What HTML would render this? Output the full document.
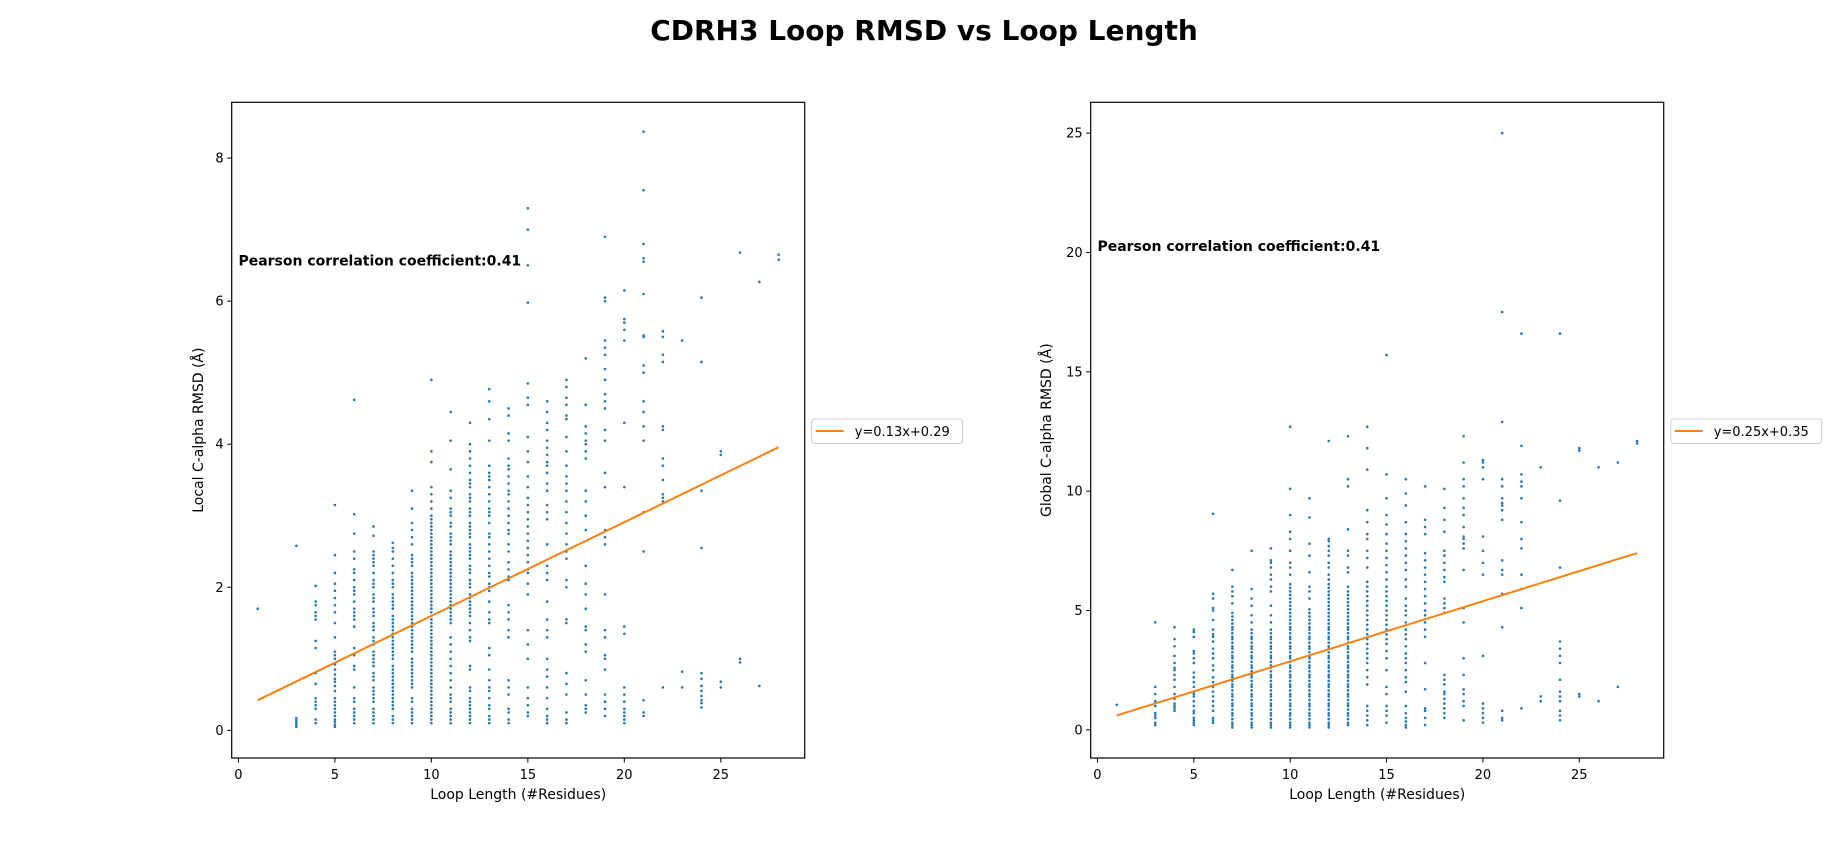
<!DOCTYPE html>
<html><head><meta charset="utf-8"><style>
html,body{margin:0;padding:0;background:#fff;}
svg{display:block;font-family:"DejaVu Sans","Liberation Sans",sans-serif;}
</style></head><body>
<svg id="fig" width="1848" height="852" viewBox="0 0 1848 852" xmlns="http://www.w3.org/2000/svg">
<text x="924" y="40" text-anchor="middle" font-size="28" font-weight="bold">CDRH3 Loop RMSD vs Loop Length</text>
</svg>
<script>
const lengths = [1,3,4,5,6,7,8,9,10,11,12,13,14,15,16,17,18,19,20,21,22,23,24,25,26,27,28];
const localRmsd = [
[1.7],
[0.05,0.08,0.11,0.14,0.17,2.58],
[0.1,0.15,0.3,0.35,0.4,0.45,0.65,0.8,1.15,1.25,1.55,1.6,1.65,1.75,1.8,2.02],
[0.05,0.08,0.12,0.15,0.2,0.25,0.3,0.35,0.4,0.45,0.55,0.62,0.68,0.72,0.78,0.85,0.92,1.0,1.05,1.1,1.3,1.5,1.65,1.75,1.85,1.95,2.05,2.2,2.45,3.15],
[0.1,0.15,0.2,0.25,0.3,0.4,0.45,0.6,0.85,0.9,1.05,1.15,1.45,1.55,1.6,1.65,1.7,1.8,1.9,1.95,2.0,2.1,2.2,2.25,2.4,2.5,2.75,3.02,4.62],
[0.1,0.15,0.2,0.25,0.3,0.4,0.45,0.5,0.55,0.6,0.7,0.75,0.8,0.9,0.95,1.0,1.05,1.1,1.2,1.25,1.3,1.4,1.45,1.5,1.6,1.65,1.7,1.8,1.85,1.9,2.0,2.05,2.1,2.2,2.3,2.35,2.4,2.45,2.5,2.72,2.85],
[0.1,0.15,0.2,0.3,0.35,0.4,0.45,0.5,0.55,0.6,0.65,0.7,0.75,0.8,0.85,0.9,1.0,1.05,1.1,1.15,1.2,1.25,1.3,1.35,1.4,1.45,1.5,1.55,1.6,1.7,1.75,1.8,1.85,1.9,2.0,2.05,2.1,2.2,2.3,2.4,2.5,2.55,2.62],
[0.1,0.15,0.2,0.25,0.3,0.4,0.45,0.6,0.65,0.7,0.75,0.8,0.85,0.9,0.95,1.0,1.1,1.15,1.2,1.25,1.3,1.35,1.4,1.45,1.5,1.55,1.6,1.65,1.7,1.75,1.8,1.85,1.9,1.95,2.0,2.05,2.1,2.15,2.2,2.3,2.35,2.4,2.45,2.6,2.7,2.8,2.9,3.1,3.35],
[0.1,0.15,0.2,0.25,0.3,0.35,0.4,0.45,0.5,0.55,0.6,0.65,0.7,0.75,0.8,0.85,0.9,0.95,1.0,1.05,1.1,1.15,1.2,1.25,1.3,1.35,1.4,1.45,1.5,1.55,1.6,1.65,1.7,1.75,1.8,1.85,1.9,1.95,2.0,2.05,2.1,2.15,2.2,2.25,2.3,2.35,2.4,2.45,2.5,2.55,2.6,2.65,2.7,2.75,2.8,2.85,2.9,2.95,3.0,3.1,3.2,3.3,3.4,3.75,3.9,4.9],
[0.1,0.15,0.2,0.25,0.3,0.4,0.45,0.5,0.6,0.7,0.8,0.9,1.0,1.1,1.2,1.3,1.5,1.55,1.6,1.65,1.7,1.75,1.8,1.85,1.9,1.95,2.0,2.05,2.1,2.15,2.2,2.25,2.3,2.35,2.4,2.45,2.5,2.6,2.65,2.7,2.75,2.85,2.9,3.0,3.05,3.1,3.25,3.35,3.65,4.05,4.45],
[0.1,0.15,0.2,0.25,0.3,0.35,0.4,0.45,0.55,0.6,0.85,0.9,1.25,1.3,1.4,1.5,1.6,1.65,1.7,1.75,1.8,1.85,1.9,2.0,2.05,2.1,2.2,2.25,2.3,2.4,2.45,2.5,2.55,2.6,2.7,2.75,2.8,2.85,2.9,3.0,3.05,3.1,3.2,3.25,3.3,3.4,3.45,3.5,3.6,3.7,3.8,3.9,4.0,4.3],
[0.1,0.15,0.2,0.3,0.35,0.45,0.55,0.6,0.7,0.85,1.05,1.15,1.5,1.55,1.65,1.8,1.95,2.0,2.05,2.15,2.2,2.3,2.4,2.5,2.6,2.7,2.75,2.9,3.0,3.05,3.1,3.2,3.3,3.4,3.5,3.55,3.6,3.7,4.05,4.35,4.6,4.77],
[0.1,0.15,0.25,0.3,0.5,0.6,0.7,1.3,1.4,1.55,1.65,1.75,2.1,2.15,2.25,2.35,2.5,2.6,2.75,2.8,2.9,3.0,3.1,3.2,3.3,3.35,3.45,3.55,3.65,3.7,3.8,4.05,4.15,4.4,4.5],
[0.2,0.25,0.35,0.45,0.6,1.0,1.2,1.4,1.9,2.05,2.2,2.25,2.35,2.45,2.55,2.65,2.75,2.85,2.95,3.05,3.15,3.25,3.4,3.55,3.75,3.9,4.1,4.55,4.65,4.85,5.98,6.5,7.0,7.3],
[0.1,0.15,0.2,0.3,0.45,0.6,0.75,0.85,1.0,1.3,1.4,1.55,1.8,2.1,2.2,2.3,2.6,2.95,3.05,3.15,3.35,3.45,3.6,3.7,3.75,3.85,3.95,4.05,4.2,4.3,4.45,4.6],
[0.1,0.15,0.25,0.5,0.65,0.8,1.5,1.55,2.0,2.1,2.4,2.5,2.6,2.75,2.9,3.05,3.2,3.35,3.45,3.55,3.7,3.9,4.1,4.35,4.4,4.55,4.65,4.8,4.9],
[0.25,0.3,0.35,0.5,0.7,1.1,1.2,1.4,1.45,1.7,1.9,2.05,2.3,2.8,3.0,3.2,3.35,3.8,3.9,4.0,4.05,4.15,4.25,4.55,5.2],
[0.2,0.3,0.4,0.5,0.85,1.0,1.05,1.3,1.4,1.9,2.6,2.7,2.8,3.4,3.6,4.05,4.2,4.5,4.6,4.7,4.9,5.05,5.25,5.35,5.45,6.0,6.05,6.9],
[0.1,0.15,0.2,0.25,0.3,0.4,0.5,0.6,1.35,1.45,3.4,4.3,5.45,5.6,5.7,5.75,6.15],
[0.2,0.25,0.42,2.5,3.05,4.05,4.25,4.45,4.6,5.0,5.1,5.5,5.52,6.1,6.55,6.6,6.8,7.55,8.37],
[0.6,3.2,3.25,3.3,3.5,3.7,3.8,4.2,4.25,5.15,5.25,5.5,5.58],
[0.6,0.82,5.45],
[0.32,0.38,0.42,0.48,0.55,0.62,0.72,0.8,2.55,3.35,5.15,6.05],
[0.6,0.68,3.85,3.9],
[0.95,1.0,6.68],
[0.62,6.27],
[6.58,6.65]
];
const globalRmsd = [
[1.05],
[0.2,0.3,0.5,0.6,0.7,1.0,1.2,1.5,1.8,4.5],
[0.8,0.9,1.0,1.1,1.3,1.5,1.8,2.1,2.3,2.5,2.6,2.8,3.1,3.5,3.8,4.3],
[0.2,0.3,0.4,0.5,0.7,0.8,1.0,1.2,1.4,1.5,1.6,1.8,2.0,2.2,2.4,2.8,3.0,3.2,3.3,3.9,4.1,4.2],
[0.3,0.4,0.5,0.8,1.0,1.2,1.4,1.6,1.8,2.0,2.2,2.5,2.7,3.0,3.2,3.4,3.7,3.9,4.0,4.2,4.6,5.0,5.1,5.5,5.7,9.05],
[0.1,0.2,0.3,0.45,0.6,0.7,0.85,1.0,1.1,1.25,1.4,1.5,1.65,1.8,1.9,2.05,2.2,2.3,2.45,2.6,2.7,2.85,3.0,3.1,3.25,3.4,3.5,3.65,3.8,3.9,4.05,4.2,4.3,4.45,4.6,4.75,4.9,5.3,5.6,5.8,6.0,6.7],
[0.1,0.2,0.3,0.45,0.6,0.7,0.85,1.0,1.1,1.25,1.4,1.5,1.65,1.8,1.9,2.05,2.2,2.3,2.45,2.6,2.7,2.85,3.0,3.1,3.25,3.4,3.5,3.65,3.8,3.9,4.05,4.2,4.5,4.8,5.2,5.5,5.9,7.5],
[0.1,0.2,0.3,0.45,0.6,0.7,0.85,1.0,1.1,1.25,1.4,1.5,1.65,1.8,1.9,2.05,2.2,2.3,2.45,2.6,2.7,2.85,3.0,3.1,3.25,3.4,3.5,3.65,3.8,3.9,4.05,4.2,4.5,4.8,5.2,5.8,6.0,6.3,6.5,6.8,7.0,7.1,7.6],
[0.1,0.2,0.3,0.45,0.6,0.7,0.85,1.0,1.1,1.25,1.4,1.5,1.65,1.8,1.9,2.05,2.2,2.3,2.45,2.6,2.7,2.85,3.0,3.1,3.25,3.4,3.5,3.65,3.8,3.9,4.05,4.2,4.3,4.45,4.6,4.75,4.9,5.05,5.2,5.35,5.5,5.65,5.8,5.95,6.1,6.5,6.8,7.0,7.5,8.0,8.3,9.0,10.1,12.7],
[0.1,0.2,0.3,0.45,0.6,0.7,0.85,1.0,1.1,1.25,1.4,1.5,1.65,1.8,1.9,2.05,2.2,2.3,2.45,2.6,2.7,2.85,3.0,3.1,3.25,3.4,3.5,3.65,3.8,3.9,4.05,4.2,4.3,4.45,4.6,4.75,4.9,5.05,5.5,5.8,6.0,6.6,7.3,7.8,8.9,9.7],
[0.1,0.2,0.3,0.45,0.6,0.7,0.85,1.0,1.1,1.25,1.4,1.5,1.65,1.8,1.9,2.05,2.2,2.3,2.45,2.6,2.7,2.85,3.0,3.1,3.25,3.4,3.5,3.65,3.8,3.9,4.05,4.2,4.3,4.45,4.6,4.75,4.9,5.05,5.2,5.35,5.5,5.65,5.8,5.95,6.1,6.3,6.5,6.8,7.0,7.3,7.5,7.7,7.9,8.0,12.1],
[0.2,0.3,0.45,0.6,0.7,0.85,1.0,1.1,1.25,1.4,1.5,1.65,1.8,1.9,2.05,2.2,2.3,2.45,2.6,2.7,2.85,3.0,3.1,3.25,3.4,3.5,3.65,3.8,3.9,4.05,4.2,4.3,4.45,4.6,4.75,4.9,5.05,5.2,5.35,5.5,5.65,5.8,6.0,6.6,6.8,7.3,7.5,8.4,10.2,10.5,12.3],
[0.2,0.4,0.6,0.8,1.0,1.9,2.2,2.5,2.8,3.0,3.2,3.4,3.6,3.8,4.0,4.2,4.4,4.6,4.8,5.0,5.2,5.4,5.6,5.8,6.0,6.2,6.8,7.2,7.5,8.0,8.2,8.7,9.2,10.9,11.8,12.7],
[0.3,0.6,0.8,1.0,1.5,1.8,2.5,3.0,3.3,3.6,3.8,4.0,4.2,4.4,4.6,4.8,5.0,5.2,5.4,5.6,5.8,6.0,6.3,6.6,6.9,7.2,7.5,7.8,8.2,8.6,9.0,9.7,10.7,15.7],
[0.1,0.2,0.35,0.5,0.7,1.0,1.6,2.0,2.2,2.5,2.8,3.0,3.2,3.5,3.8,4.0,4.2,4.5,4.8,5.0,5.2,5.5,6.0,6.3,6.7,7.0,7.3,7.6,7.9,8.2,8.7,9.4,9.9,10.5],
[0.2,0.5,0.8,0.9,1.7,2.8,3.9,4.2,4.5,4.8,5.0,5.3,5.6,5.9,6.2,6.5,6.8,7.1,7.4,8.2,8.5,8.8,10.2],
[0.5,0.7,0.9,1.1,1.3,1.5,1.6,1.9,2.1,2.3,4.9,5.1,5.3,5.5,6.2,6.4,6.7,7.0,7.3,7.5,8.3,8.8,9.3,10.1],
[0.4,1.0,1.2,1.5,1.7,2.3,3.0,4.5,5.1,6.7,7.6,7.8,8.0,8.1,8.5,9.0,9.3,9.7,10.2,10.5,11.2,12.3],
[0.3,0.5,0.7,0.9,1.1,3.1,6.5,7.0,7.5,8.1,10.5,11.0,11.2,11.3],
[0.4,0.5,0.8,4.3,5.7,6.5,6.7,7.1,8.8,9.2,9.4,9.5,9.7,10.2,10.5,12.9,17.5,25.0],
[0.9,5.1,5.9,6.5,7.6,8.0,8.7,9.7,10.2,10.4,10.7,11.9,16.6],
[1.2,1.4,11.0],
[0.4,0.6,0.8,1.2,1.4,1.6,2.1,2.8,3.1,3.4,3.7,6.8,9.6,16.6],
[1.4,1.5,11.7,11.8],
[1.2,11.0],
[1.8,11.2],
[12.0,12.1]
];
const xTicks = [0,5,10,15,20,25];
const localYTicks = [0,2,4,6,8];
const globalYTicks = [0,5,10,15,20,25];
const localFit = [0.131, 0.29];
const globalFit = [0.252, 0.35];
const fitRange = [1, 28];
const localLegend = "y=0.13x+0.29";
const globalLegend = "y=0.25x+0.35";
const pearsonText = "Pearson correlation coefficient:0.41";

const NS = "http://www.w3.org/2000/svg";
const svg = document.getElementById('fig');
function mk(tag, attrs, parent, text){
  const e = document.createElementNS(NS, tag);
  for (const k in attrs) e.setAttribute(k, attrs[k]);
  if (text !== undefined) e.textContent = text;
  parent.appendChild(e);
  return e;
}
function drawPanel(cfg){
  const g = mk('g', {}, svg);
  
  
  const xs = v => cfg.L + (v - cfg.xd[0]) / (cfg.xd[1] - cfg.xd[0]) * (cfg.R - cfg.L);
  const ys = v => cfg.B - (v - cfg.yd[0]) / (cfg.yd[1] - cfg.yd[0]) * (cfg.B - cfg.T);
  const pg = mk('g', {fill:'#1f77b4'}, g);
  
  
  cfg.vals.forEach((col, i) => {
    col.forEach(v => {
      const c = mk('circle', {cx: xs(lengths[i]).toFixed(2), cy: ys(v).toFixed(2), r: 1.3}, pg);
      
      
    });
  });
  const fl = mk('line', {x1: xs(fitRange[0]), y1: ys(cfg.fit[0]*fitRange[0]+cfg.fit[1]), x2: xs(fitRange[1]), y2: ys(cfg.fit[0]*fitRange[1]+cfg.fit[1]), stroke:'#ff7f0e', 'stroke-width':2}, g);
  
  
  const fr = mk('rect', {x: cfg.L, y: cfg.T, width: cfg.R - cfg.L, height: cfg.B - cfg.T, fill:'none', stroke:'#000', 'stroke-width':1.2}, g);
  
  
  xTicks.forEach(t => {
    const x = xs(t);
    mk('line', {x1:x, y1:cfg.B, x2:x, y2:cfg.B+4.5, stroke:'#000', 'stroke-width':1}, g);
    const tl = mk('text', {x:x, y:cfg.B+21, 'text-anchor':'middle', 'font-size':13}, g, String(t));
    
    
  });
  cfg.yt.forEach(t => {
    const y = ys(t);
    mk('line', {x1:cfg.L-4.5, y1:y, x2:cfg.L, y2:y, stroke:'#000', 'stroke-width':1}, g);
    const tl = mk('text', {x:cfg.L-8, y:y+4.5, 'text-anchor':'end', 'font-size':13}, g, String(t));
    
    
  });
  const xl = mk('text', {x:(cfg.L+cfg.R)/2, y:799, 'text-anchor':'middle', 'font-size':14}, g, 'Loop Length (#Residues)');
  
  
  const cy = (cfg.T+cfg.B)/2;
  const yl = mk('text', {x:cfg.ylx, y:cy, 'text-anchor':'middle', 'font-size':14, transform:'rotate(-90 '+cfg.ylx+' '+cy+')'}, g, cfg.ylabel);
  
  
  const pt = mk('text', {x:xs(0), y:ys(cfg.pearsonY), 'font-size':14, 'font-weight':'bold'}, g, pearsonText);
  
  
  const lg = mk('g', {}, g);
  
  
  mk('rect', {x:cfg.R+7, y:419, width:151, height:24.5, rx:3, fill:'#fff', stroke:'#ccc', 'stroke-width':1}, lg);
  mk('line', {x1:cfg.R+11, y1:431, x2:cfg.R+39, y2:431, stroke:'#ff7f0e', 'stroke-width':2}, lg);
  const lt = mk('text', {x:cfg.R+50, y:436, 'font-size':13}, lg, cfg.legend);
  
  
}
drawPanel({name:'local-rmsd-panel', L:231.7, R:804.7, T:102.3, B:758, xd:[-0.35,29.35], yd:[-0.387,8.78], vals:localRmsd, fit:localFit, yt:localYTicks, ylabel:'Local C-alpha RMSD (Å)', ylx:203, legend:localLegend, pearsonY:6.5});
drawPanel({name:'global-rmsd-panel', L:1090.7, R:1663.7, T:102.3, B:758, xd:[-0.35,29.38], yd:[-1.18,26.29], vals:globalRmsd, fit:globalFit, yt:globalYTicks, ylabel:'Global C-alpha RMSD (Å)', ylx:1051, legend:globalLegend, pearsonY:20.05});
</script>
</body></html>
